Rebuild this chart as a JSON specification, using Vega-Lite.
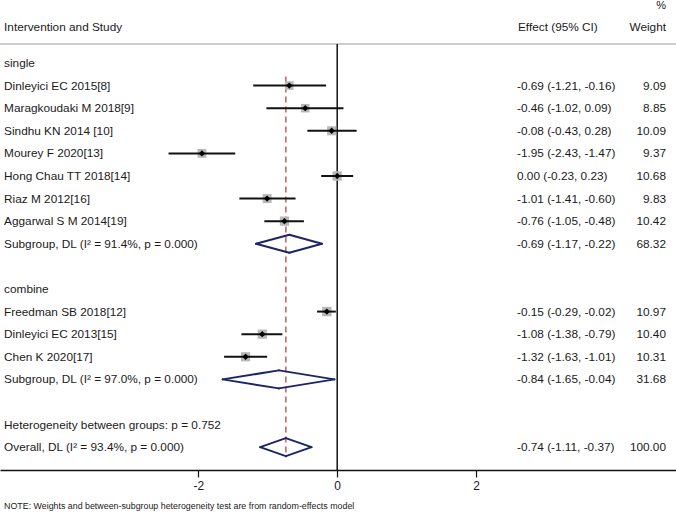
{
  "$schema": "https://vega.github.io/schema/vega-lite/v6.json",
  "width": 676,
  "height": 426,
  "autosize": "none",
  "padding": {"left": 0, "top": 44, "right": 0, "bottom": 43},
  "background": "white",
  "config": {"view": {"stroke": null}, "font": "Liberation Sans"},
  "data": {"values": [
    {"row": 0, "type": "group", "label": "single"},
    {"row": 1, "type": "study", "label": "Dinleyici EC 2015[8]", "est": -0.69, "lo": -1.21, "hi": -0.16, "weight": 9.09, "effect": "-0.69 (-1.21, -0.16)"},
    {"row": 2, "type": "study", "label": "Maragkoudaki M 2018[9]", "est": -0.46, "lo": -1.02, "hi": 0.09, "weight": 8.85, "effect": "-0.46 (-1.02, 0.09)"},
    {"row": 3, "type": "study", "label": "Sindhu KN 2014 [10]", "est": -0.08, "lo": -0.43, "hi": 0.28, "weight": 10.09, "effect": "-0.08 (-0.43, 0.28)"},
    {"row": 4, "type": "study", "label": "Mourey F 2020[13]", "est": -1.95, "lo": -2.43, "hi": -1.47, "weight": 9.37, "effect": "-1.95 (-2.43, -1.47)"},
    {"row": 5, "type": "study", "label": "Hong Chau TT 2018[14]", "est": 0.0, "lo": -0.23, "hi": 0.23, "weight": 10.68, "effect": "0.00 (-0.23, 0.23)"},
    {"row": 6, "type": "study", "label": "Riaz M 2012[16]", "est": -1.01, "lo": -1.41, "hi": -0.60, "weight": 9.83, "effect": "-1.01 (-1.41, -0.60)"},
    {"row": 7, "type": "study", "label": "Aggarwal S M 2014[19]", "est": -0.76, "lo": -1.05, "hi": -0.48, "weight": 10.42, "effect": "-0.76 (-1.05, -0.48)"},
    {"row": 8, "type": "subgroup", "label": "Subgroup, DL (I² = 91.4%, p = 0.000)", "est": -0.69, "lo": -1.17, "hi": -0.22, "weight": 68.32, "effect": "-0.69 (-1.17, -0.22)"},
    {"row": 10, "type": "group", "label": "combine"},
    {"row": 11, "type": "study", "label": "Freedman SB 2018[12]", "est": -0.15, "lo": -0.29, "hi": -0.02, "weight": 10.97, "effect": "-0.15 (-0.29, -0.02)"},
    {"row": 12, "type": "study", "label": "Dinleyici EC 2013[15]", "est": -1.08, "lo": -1.38, "hi": -0.79, "weight": 10.40, "effect": "-1.08 (-1.38, -0.79)"},
    {"row": 13, "type": "study", "label": "Chen K 2020[17]", "est": -1.32, "lo": -1.63, "hi": -1.01, "weight": 10.31, "effect": "-1.32 (-1.63, -1.01)"},
    {"row": 14, "type": "subgroup", "label": "Subgroup, DL (I² = 97.0%, p = 0.000)", "est": -0.84, "lo": -1.65, "hi": -0.04, "weight": 31.68, "effect": "-0.84 (-1.65, -0.04)"},
    {"row": 16, "type": "het", "label": "Heterogeneity between groups: p = 0.752"},
    {"row": 17, "type": "overall", "label": "Overall, DL (I² = 93.4%, p = 0.000)", "est": -0.74, "lo": -1.11, "hi": -0.37, "weight": 100.0, "effect": "-0.74 (-1.11, -0.37)"}
  ]},
  "encoding": {
    "x": {"type": "quantitative", "scale": {"domain": [-4.859, 4.882], "nice": false, "zero": false},
      "axis": {"values": [-2, 0, 2], "labelExpr": "datum.value", "title": null, "grid": false, "domainColor": "#111", "domainWidth": 1.5, "tickColor": "#111", "tickWidth": 1.2, "tickSize": 7, "labelFontSize": 12, "labelColor": "#1a1a1a", "labelPadding": 3, "labelFont": "Liberation Sans"}},
    "y": {"type": "quantitative", "scale": {"domain": [-0.84, 18.01], "reverse": true, "nice": false, "zero": false}, "axis": null}
  },
  "layer": [
    {"data": {"values": [{}]}, "mark": {"type": "rule", "color": "#bdbdbd", "strokeWidth": 1.5}, "encoding": {"x": null, "y": {"datum": -0.84}}},
    {"data": {"values": [{}]}, "mark": {"type": "rule", "color": "#111", "strokeWidth": 1.5}, "encoding": {"x": {"datum": 0}, "y": null}},
    {"transform": [{"filter": "datum.type === 'overall'"}], "mark": {"type": "rule", "color": "#c0605f", "strokeWidth": 1.5, "strokeDash": [6, 4]},
      "encoding": {"x": {"field": "est"}, "y": {"datum": 0.6}, "y2": {"datum": 17.45}}},
    {"transform": [{"filter": "datum.type === 'study'"}], "mark": {"type": "point", "shape": "square", "filled": true, "color": "#b8b8b8", "opacity": 1},
      "encoding": {"x": {"field": "est"}, "y": {"field": "row"}, "size": {"field": "weight", "type": "quantitative", "scale": {"domain": [0, 11], "range": [0, 90]}, "legend": null}}},
    {"transform": [{"filter": "datum.type === 'study'"}], "mark": {"type": "rule", "color": "#111", "strokeWidth": 2},
      "encoding": {"x": {"field": "lo"}, "x2": {"field": "hi"}, "y": {"field": "row"}}},
    {"transform": [{"filter": "datum.type === 'study'"}], "mark": {"type": "point", "shape": "diamond", "filled": true, "color": "#000", "size": 40, "opacity": 1},
      "encoding": {"x": {"field": "est"}, "y": {"field": "row"}}},
    {"transform": [{"filter": "datum.type === 'subgroup' || datum.type === 'overall'"}], "mark": {"type": "rule", "color": "#1c2566", "strokeWidth": 2, "strokeCap": "round", "y2Offset": -9},
      "encoding": {"x": {"field": "lo"}, "x2": {"field": "est"}, "y": {"field": "row"}, "y2": {"field": "row"}}},
    {"transform": [{"filter": "datum.type === 'subgroup' || datum.type === 'overall'"}], "mark": {"type": "rule", "color": "#1c2566", "strokeWidth": 2, "strokeCap": "round", "yOffset": -9},
      "encoding": {"x": {"field": "est"}, "x2": {"field": "hi"}, "y": {"field": "row"}, "y2": {"field": "row"}}},
    {"transform": [{"filter": "datum.type === 'subgroup' || datum.type === 'overall'"}], "mark": {"type": "rule", "color": "#1c2566", "strokeWidth": 2, "strokeCap": "round", "y2Offset": 9},
      "encoding": {"x": {"field": "hi"}, "x2": {"field": "est"}, "y": {"field": "row"}, "y2": {"field": "row"}}},
    {"transform": [{"filter": "datum.type === 'subgroup' || datum.type === 'overall'"}], "mark": {"type": "rule", "color": "#1c2566", "strokeWidth": 2, "strokeCap": "round", "yOffset": 9},
      "encoding": {"x": {"field": "est"}, "x2": {"field": "lo"}, "y": {"field": "row"}, "y2": {"field": "row"}}},
    {"mark": {"type": "text", "align": "left", "baseline": "middle", "fontSize": 11.8, "color": "#1a1a1a"},
      "encoding": {"x": {"datum": -4.80}, "y": {"field": "row"}, "text": {"field": "label"}}},
    {"transform": [{"filter": "isValid(datum.effect)"}], "mark": {"type": "text", "align": "left", "baseline": "middle", "fontSize": 11.8, "color": "#1a1a1a"},
      "encoding": {"x": {"datum": 2.591}, "y": {"field": "row"}, "text": {"field": "effect"}}},
    {"transform": [{"filter": "isValid(datum.weight)"}], "mark": {"type": "text", "align": "right", "baseline": "middle", "fontSize": 11.8, "color": "#1a1a1a"},
      "encoding": {"x": {"datum": 4.738}, "y": {"field": "row"}, "text": {"field": "weight", "format": ".2f"}}},
    {"data": {"values": [{"t": "Intervention and Study"}]}, "mark": {"type": "text", "align": "left", "baseline": "middle", "fontSize": 11.8, "color": "#1a1a1a"},
      "encoding": {"x": {"datum": -4.80}, "y": {"datum": -1.59}, "text": {"field": "t"}}},
    {"data": {"values": [{"t": "Effect (95% CI)"}]}, "mark": {"type": "text", "align": "left", "baseline": "middle", "fontSize": 11.8, "color": "#1a1a1a"},
      "encoding": {"x": {"datum": 2.605}, "y": {"datum": -1.59}, "text": {"field": "t"}}},
    {"data": {"values": [{"t": "Weight"}]}, "mark": {"type": "text", "align": "right", "baseline": "middle", "fontSize": 11.8, "color": "#1a1a1a"},
      "encoding": {"x": {"datum": 4.738}, "y": {"datum": -1.59}, "text": {"field": "t"}}},
    {"data": {"values": [{"t": "%"}]}, "mark": {"type": "text", "align": "right", "baseline": "middle", "fontSize": 11, "color": "#1a1a1a"},
      "encoding": {"x": {"datum": 4.738}, "y": {"datum": -2.52}, "text": {"field": "t"}}},
    {"data": {"values": [{"t": "NOTE: Weights and between-subgroup heterogeneity test are from random-effects model"}]}, "mark": {"type": "text", "align": "left", "baseline": "middle", "fontSize": 8.85, "color": "#1a1a1a"},
      "encoding": {"x": {"datum": -4.80}, "y": {"datum": 19.6}, "text": {"field": "t"}}}
  ]
}
